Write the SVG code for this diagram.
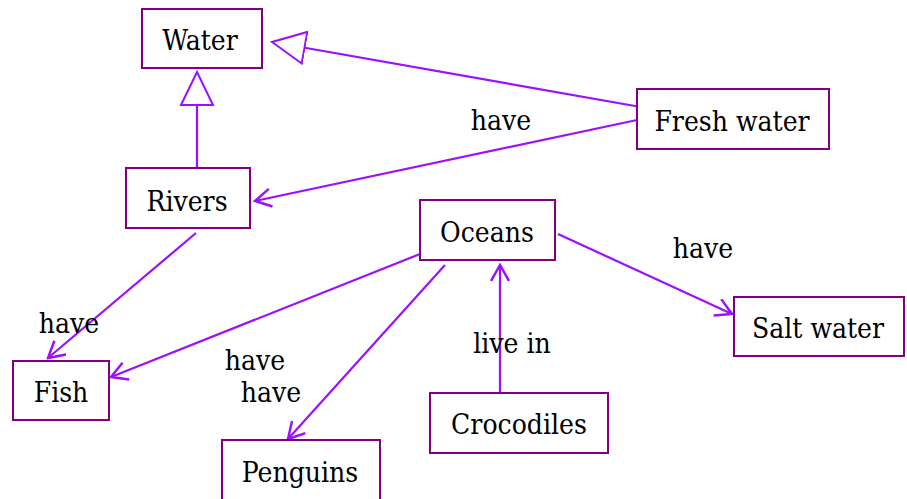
<svg xmlns="http://www.w3.org/2000/svg" width="907" height="499" viewBox="0 0 907 499">
<style>
.box{fill:#fff;stroke:#800080;stroke-width:2}
.t{font-family:'DejaVu Serif Condensed','DejaVu Serif',serif;font-stretch:condensed;font-size:28px;fill:#000;text-anchor:middle}
.c{stroke:#9a10ff;stroke-width:2.2;fill:none}
</style>
<defs>
<marker id="open" viewBox="0 0 20 20" refX="18" refY="10" markerWidth="20" markerHeight="20" markerUnits="userSpaceOnUse" orient="auto">
<path d="M2,1 L18,10 L2,19" fill="none" stroke="#9a10ff" stroke-width="2.5"/>
</marker>
<marker id="tri" viewBox="0 0 36 36" refX="34" refY="18" markerWidth="36" markerHeight="36" markerUnits="userSpaceOnUse" orient="auto">
<path d="M1,2 L34,18 L1,34 Z" fill="#fff" stroke="#9a10ff" stroke-width="2"/>
</marker>
</defs>
<g id="connectors">
<line class="c" x1="652" y1="109" x2="272" y2="42" marker-end="url(#tri)"/>
<line class="c" x1="197" y1="168" x2="197" y2="72" marker-end="url(#tri)"/>
<line class="c" x1="637" y1="120" x2="255" y2="201" marker-end="url(#open)"/>
<line class="c" x1="196" y1="233" x2="48" y2="358" marker-end="url(#open)"/>
<line class="c" x1="430" y1="250" x2="111" y2="377" marker-end="url(#open)"/>
<line class="c" x1="445" y1="265" x2="288" y2="439" marker-end="url(#open)"/>
<line class="c" x1="500" y1="393" x2="500" y2="265" marker-end="url(#open)"/>
<line class="c" x1="558" y1="234" x2="732" y2="314" marker-end="url(#open)"/>
<text class="t" x="501" y="130">have</text>
<text class="t" x="703" y="258">have</text>
<text class="t" x="69" y="333">have</text>
<text class="t" x="255" y="370">have</text>
<text class="t" x="271" y="402">have</text>
<text class="t" x="512" y="353">live in</text>
</g>
<g id="nodes">
<g id="water"><rect class="box" x="142" y="9" width="120" height="59"/><text class="t" x="200" y="50">Water</text></g>
<g id="fresh"><rect class="box" x="637" y="89" width="192" height="60"/><text class="t" x="732" y="131">Fresh water</text></g>
<g id="rivers"><rect class="box" x="126" y="168" width="124" height="60"/><text class="t" x="187" y="211">Rivers</text></g>
<g id="oceans"><rect class="box" x="420" y="200" width="135" height="60"/><text class="t" x="487" y="242">Oceans</text></g>
<g id="salt"><rect class="box" x="734" y="297" width="170" height="59"/><text class="t" x="818" y="338">Salt water</text></g>
<g id="fish"><rect class="box" x="13" y="361" width="96" height="59"/><text class="t" x="61" y="402">Fish</text></g>
<g id="crocodiles"><rect class="box" x="430" y="393" width="178" height="60"/><text class="t" x="519" y="434">Crocodiles</text></g>
<g id="penguins"><rect class="box" x="222" y="440" width="158" height="62"/><text class="t" x="300" y="482">Penguins</text></g>
</g>
</svg>
